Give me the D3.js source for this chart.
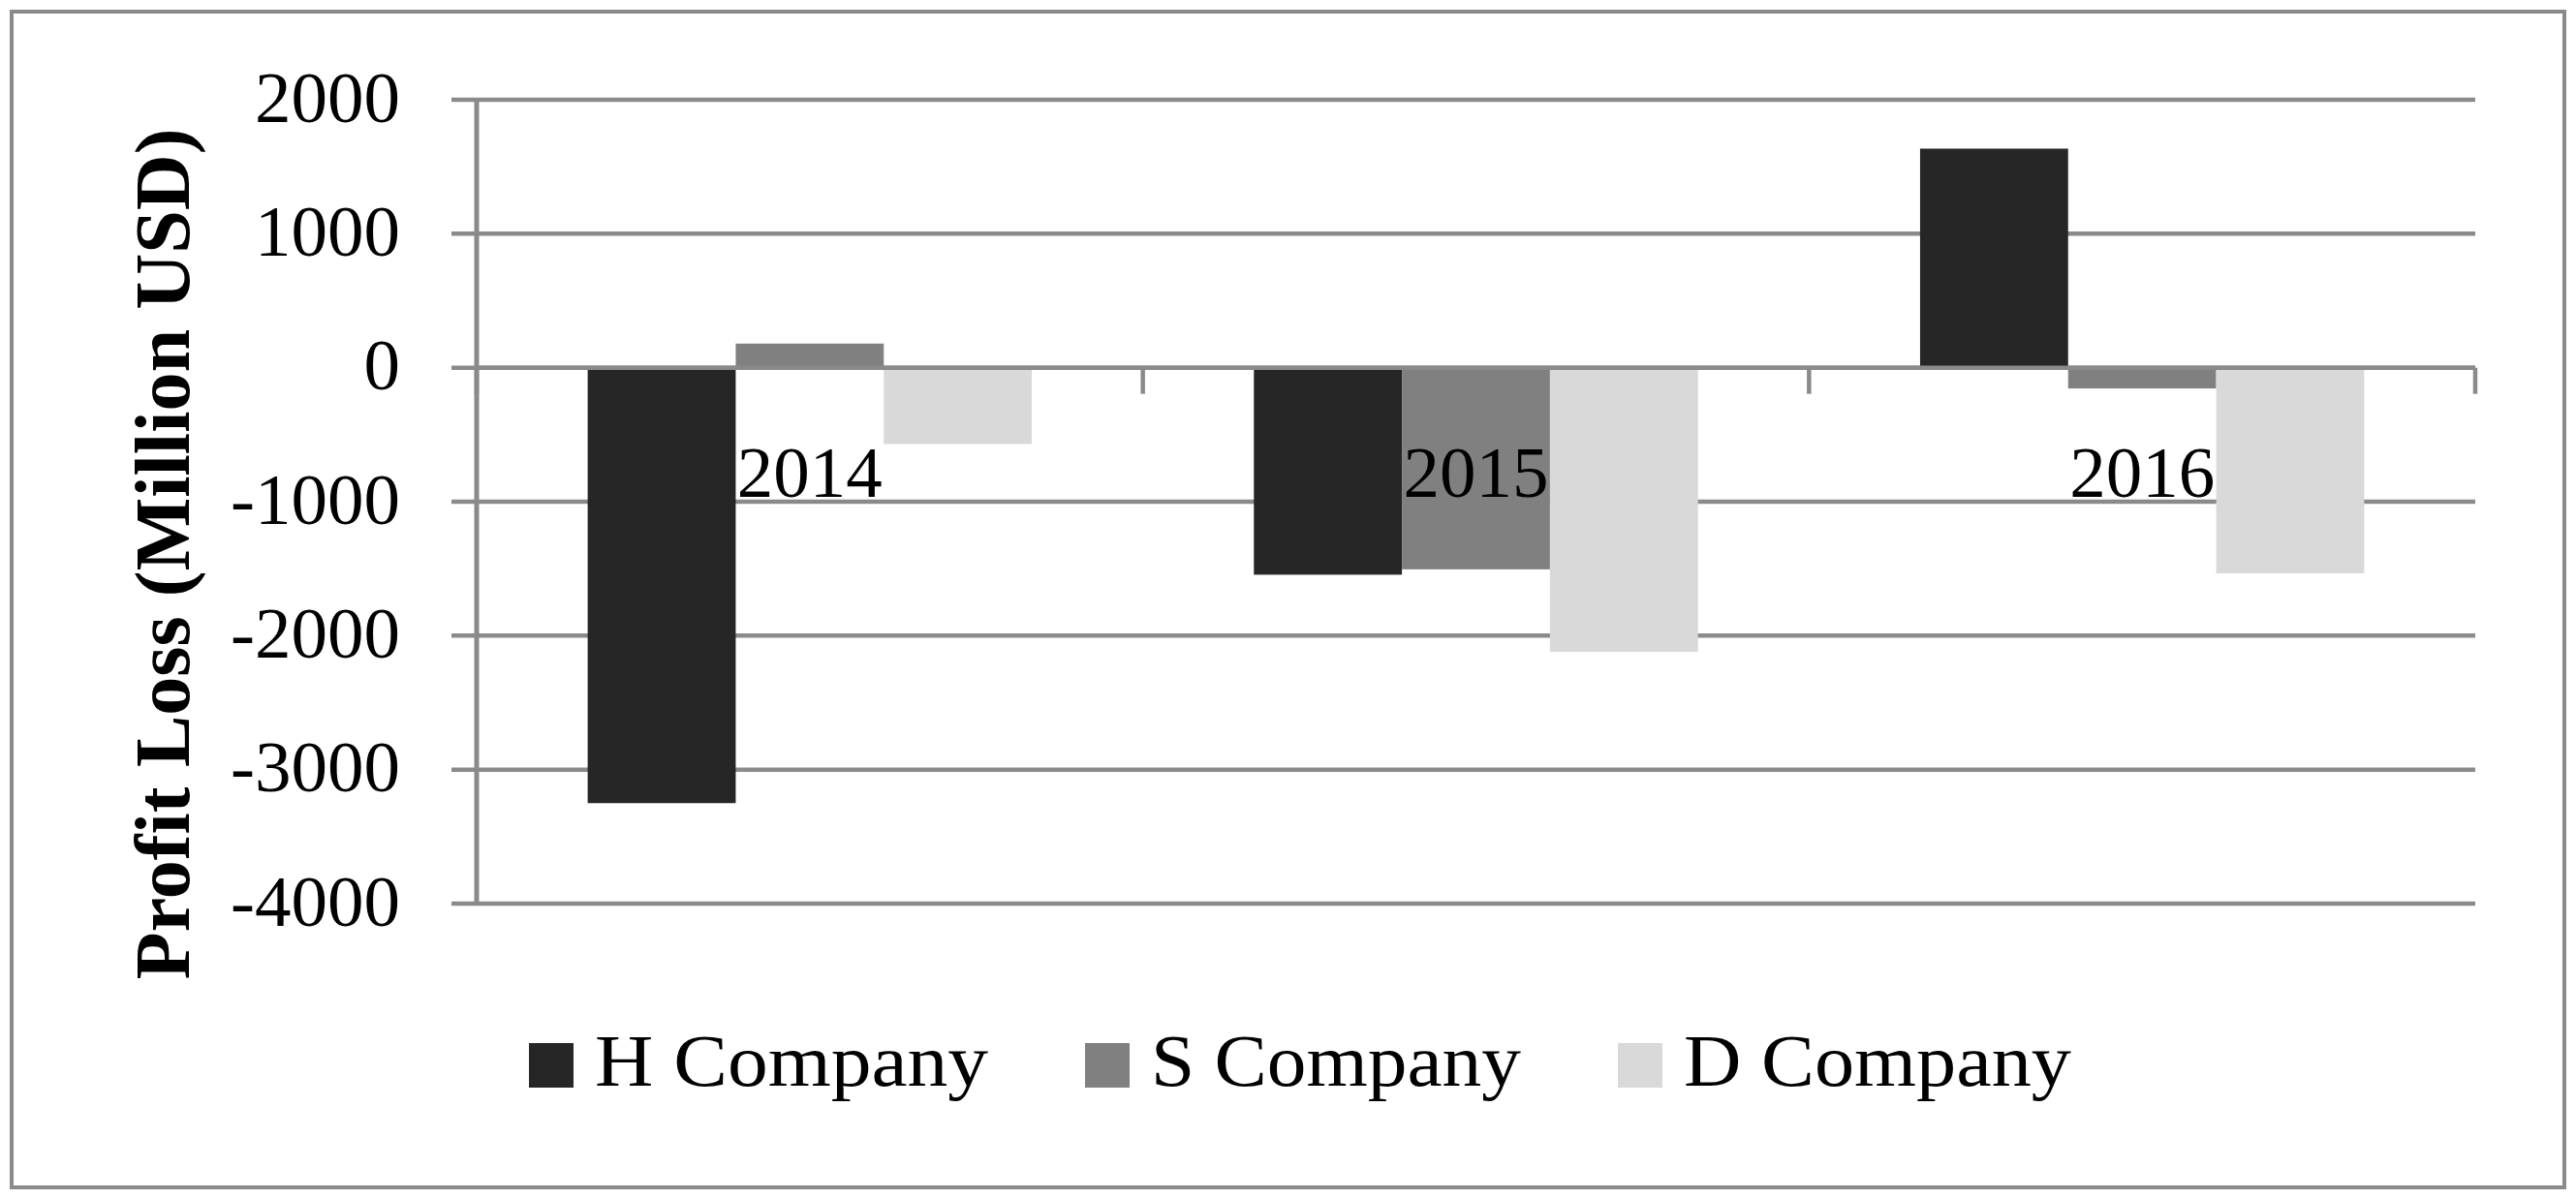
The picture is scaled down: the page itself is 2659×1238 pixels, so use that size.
<!DOCTYPE html>
<html>
<head>
<meta charset="utf-8">
<script src="https://cdn.jsdelivr.net/npm/d3@7"></script>
<style>
  html, body { margin: 0; padding: 0; background: #ffffff; }
  svg { display: block; }
</style>
</head>
<body>
<svg id="chart" width="2659" height="1238"></svg>
<script>
// ---- data ----
const categories = ["2014", "2015", "2016"];
const seriesNames = ["H Company", "S Company", "D Company"];
const hCompany = [-3250, -1545, 1635];
const sCompany = [180, -1505, -155];
const dCompany = [-570, -2120, -1535];
const yTickValues = [2000, 1000, 0, -1000, -2000, -3000, -4000];
const yTickLabels = ["2000", "1000", "0", "-1000", "-2000", "-3000", "-4000"];
const yAxisTitle = "Profit Loss (Million USD)";

const seriesValues = [hCompany, sCompany, dCompany];
const colors = ["#262626", "#808080", "#d9d9d9"];
const gridColor = "#8a8a8a";

// ---- layout ----
const W = 2659, H = 1238;
const plot = { left: 492, right: 2555, top: 103, bottom: 933 };
const svg = d3.select("#chart");

svg.append("rect").attr("x", 0).attr("y", 0).attr("width", W).attr("height", H).attr("fill", "#fff");
// outer border
svg.append("rect")
  .attr("x", 12).attr("y", 12).attr("width", 2635).attr("height", 1214)
  .attr("fill", "none").attr("stroke", gridColor).attr("stroke-width", 4);

const x = d3.scaleBand().domain(categories).range([plot.left, plot.right]).paddingInner(0).paddingOuter(0);
const xs = d3.scaleBand().domain(seriesNames).range([0, x.bandwidth()]).paddingInner(0).paddingOuter(0.75);
const y = d3.scaleLinear().domain([-4000, 2000]).range([plot.bottom, plot.top]);

// gridlines (with left tick marks)
svg.append("g").selectAll("line").data(yTickValues).join("line")
  .attr("x1", plot.left - 26).attr("x2", plot.right)
  .attr("y1", d => y(d)).attr("y2", d => y(d))
  .attr("stroke", gridColor).attr("stroke-width", 4.5);

// bars
const table = [];
categories.forEach((c, i) => seriesNames.forEach((s, j) => table.push({ cat: c, ser: s, val: seriesValues[j][i], j })));
svg.append("g").selectAll("rect").data(table).join("rect")
  .attr("x", d => x(d.cat) + xs(d.ser))
  .attr("width", xs.bandwidth())
  .attr("y", d => y(Math.max(0, d.val)))
  .attr("height", d => Math.abs(y(d.val) - y(0)))
  .attr("fill", d => colors[d.j]);

// zero axis line on top of bars
svg.append("line")
  .attr("x1", plot.left).attr("x2", plot.right)
  .attr("y1", y(0)).attr("y2", y(0))
  .attr("stroke", gridColor).attr("stroke-width", 4.5);

// category tick marks (down from the zero line)
const boundaries = categories.map(c => x(c)).concat([x(categories[categories.length - 1]) + x.bandwidth()]);
svg.append("g").selectAll("line").data(boundaries).join("line")
  .attr("x1", d => d).attr("x2", d => d)
  .attr("y1", y(0)).attr("y2", y(0) + 27)
  .attr("stroke", gridColor).attr("stroke-width", 4.5);

// vertical axis line
svg.append("line")
  .attr("x1", plot.left).attr("x2", plot.left)
  .attr("y1", plot.top).attr("y2", plot.bottom)
  .attr("stroke", gridColor).attr("stroke-width", 5);

// y tick labels via d3 axis
const yAxis = d3.axisLeft(y).tickValues(yTickValues).tickSize(0).tickPadding(0)
  .tickFormat((d, i) => yTickLabels[i]);
const gy = svg.append("g").attr("transform", `translate(413,0)`).call(yAxis);
gy.select(".domain").remove();
gy.selectAll("text")
  .attr("font-family", "'Liberation Serif', 'Times New Roman', serif")
  .attr("font-size", 75).attr("fill", "#000")
  .attr("dy", 22).attr("x", 0);

// category labels
svg.append("g").selectAll("text").data(categories).join("text")
  .attr("x", d => x(d) + x.bandwidth() / 2)
  .attr("y", y(0) + 133)
  .attr("text-anchor", "middle")
  .attr("font-family", "'Liberation Serif', 'Times New Roman', serif")
  .attr("font-size", 75).attr("fill", "#000")
  .text(d => d);

// y axis title
svg.append("text")
  .attr("transform", "translate(195,572) rotate(-90)")
  .attr("text-anchor", "middle")
  .attr("font-family", "'Liberation Serif', 'Times New Roman', serif")
  .attr("font-weight", "bold")
  .attr("font-size", 80)
  .attr("textLength", 879).attr("lengthAdjust", "spacingAndGlyphs")
  .attr("fill", "#000")
  .text(yAxisTitle);

// legend
const legendTextWidths = [406, 382, 400];
const legendSwatch = 46, legendGap = 22, legendSpacing = 100;
let lx = 546;
const legendY = 1077;
seriesNames.forEach((name, j) => {
  const g = svg.append("g");
  g.append("rect").attr("x", lx).attr("y", legendY).attr("width", legendSwatch).attr("height", legendSwatch).attr("fill", colors[j]);
  g.append("text")
    .attr("x", lx + legendSwatch + legendGap).attr("y", legendY + 44)
    .attr("font-family", "'Liberation Serif', 'Times New Roman', serif")
    .attr("font-size", 77).attr("fill", "#000")
    .attr("textLength", legendTextWidths[j]).attr("lengthAdjust", "spacingAndGlyphs")
    .text(name);
  lx += legendSwatch + legendGap + legendTextWidths[j] + legendSpacing;
});
</script>
</body>
</html>
